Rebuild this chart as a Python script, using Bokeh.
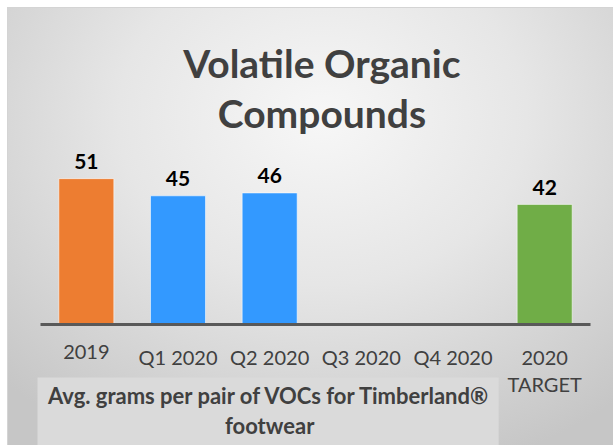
from bokeh.plotting import figure
from bokeh.models import Range1d, ColumnDataSource
from bokeh.embed import file_html
from bokeh.resources import INLINE
from bokeh.core.properties import value

# ---- data ----
categories = ["2019", "Q1 2020", "Q2 2020", "Q3 2020", "Q4 2020", "2020 TARGET"]
tick_labels = ["2019", "Q1 2020", "Q2 2020", "Q3 2020", "Q4 2020", "2020\nTARGET"]
values = [51, 45, 46, None, None, 42]
bar_colors = ["#ED7D31", "#3399FF", "#3399FF", None, None, "#70AD47"]
title_lines = ["Volatile Organic", "Compounds"]
axis_title_lines = ["Avg. grams per pair of VOCs for Timberland\u00ae", "footwear"]

FONT = "Lato"
W, H = 605, 437
CAT_PX = 91.67
PX_PER_UNIT = 2.86
BASE_PX = 316  # baseline distance from top of figure

x_start = -32 / CAT_PX
x_end = len(categories) + 23 / CAT_PX
y_top = BASE_PX / PX_PER_UNIT
y_bot = -(H - BASE_PX) / PX_PER_UNIT

p = figure(width=W, height=H, output_backend="svg", toolbar_location=None,
           x_range=Range1d(x_start, x_end), y_range=Range1d(y_bot, y_top),
           min_border=0, min_border_left=0, min_border_right=0,
           min_border_top=0, min_border_bottom=0)
p.axis.visible = False
p.grid.visible = False
p.outline_line_color = None
p.background_fill_color = None
p.border_fill_color = None
p.styles = {
    "margin-left": "8px",
    "margin-top": "8px",
    "background": "radial-gradient(ellipse 75% 85% at 52% 25%, #f7f7f7 0%, #e6e6e6 45%, #c6c6c6 100%)",
    "box-shadow": "0 0 0 1px #d4d4d4",
}

xs = [i + 0.5 for i in range(len(categories))]

# bars
bx = [x for x, v in zip(xs, values) if v is not None]
bv = [v for v in values if v is not None]
bc = [c for c, v in zip(bar_colors, values) if v is not None]
bars = ColumnDataSource(dict(x=bx, top=bv, color=bc, label=[str(v) for v in bv]))
p.vbar(x="x", top="top", bottom=0, width=0.6, fill_color="color",
       line_color="#ffffff", line_alpha=0.55, line_width=1, source=bars)

# value labels
p.text(x="x", y="top", text="label", source=bars, text_align="center",
       text_baseline="middle", y_offset=-17, text_font=value(FONT),
       text_font_style="bold", text_font_size="21px", text_color="#000000")

# baseline (category axis line)
p.segment(x0=[0], y0=[0], x1=[len(categories)], y1=[0],
          line_width=3, line_color="#595959")

# category tick labels
p.text(x=xs, y=[0] * len(xs), text=tick_labels, text_align="center",
       text_baseline="top", y_offset=20, text_font=value(FONT),
       text_font_size="20px", text_color="#404040", text_line_height=1.14)

# axis title box
p.quad(left=[-0.033], right=[4.998], bottom=[y_bot], top=[-(369 - BASE_PX) / PX_PER_UNIT],
       fill_color="#dadada", line_color=None)
p.text(x=[2.5, 2.5], y=[y_bot, y_bot], text=axis_title_lines, text_align="center",
       text_baseline="middle", y_offset=[-50, -20], text_font=value(FONT),
       text_font_style="bold", text_font_size="22px", text_color="#404040")

# chart title
p.text(x=[3.07, 3.07], y=[y_top, y_top], text=title_lines, text_align="center",
       text_baseline="middle", y_offset=[54, 104], text_font=value(FONT),
       text_font_style="bold", text_font_size="39px", text_color="#404040")

open("out.html", "w").write(file_html(p, INLINE))
